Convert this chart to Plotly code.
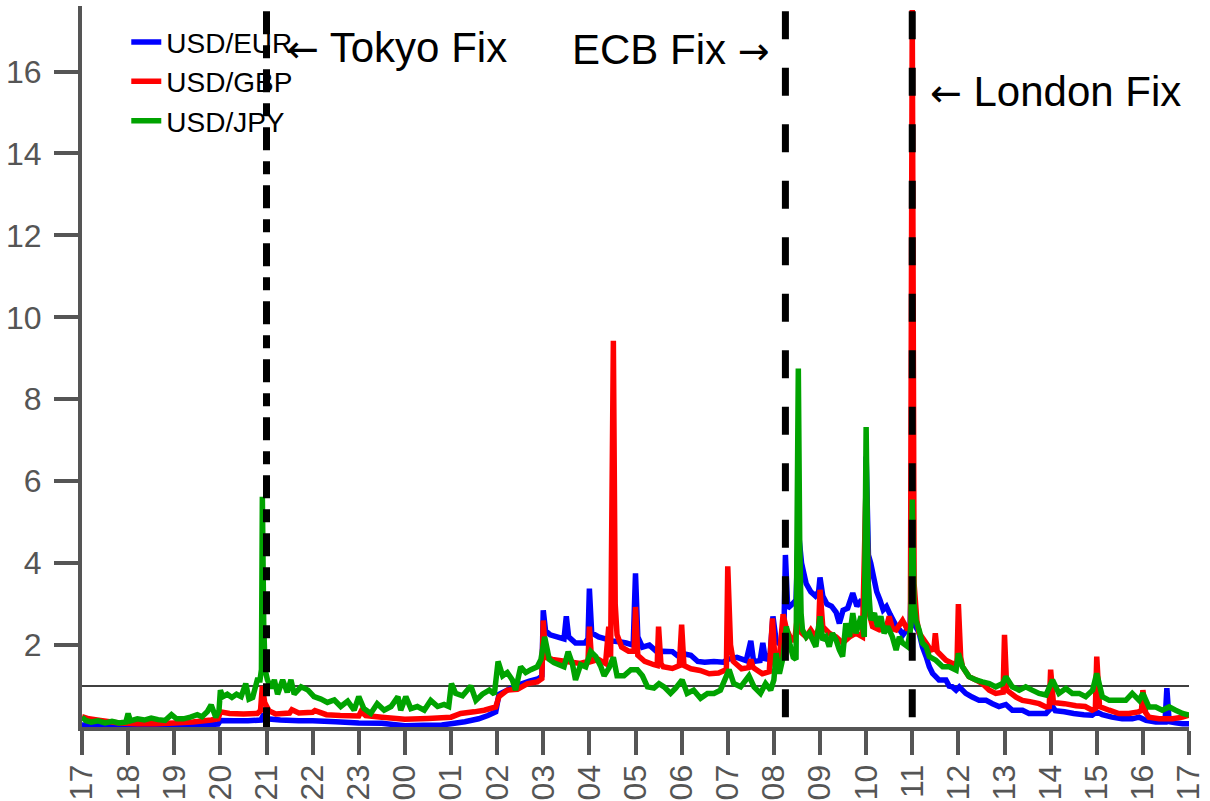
import plotly.graph_objects as go

# hours after 17:00 (0..24), value
hour_labels = ["17", "18", "19", "20", "21", "22", "23", "00", "01", "02", "03", "04", "05",
               "06", "07", "08", "09", "10", "11", "12", "13", "14", "15", "16", "17"]
y_ticks = [2, 4, 6, 8, 10, 12, 14, 16]

EUR = [(0,0.05),(0.3,0.04),(0.7,0.03),(1.0,0.04),(1.5,0.03),(2.0,0.05),(2.5,0.05),(2.95,0.07),(3.0,0.16),(3.3,0.15),(3.6,0.15),(3.88,0.17),(3.92,0.26),(4.0,0.2),(4.3,0.17),(4.7,0.15),(5.0,0.15),(5.5,0.13),(6.0,0.1),(6.5,0.09),(7.0,0.03),(7.4,0.04),(7.8,0.05),(8.0,0.08),(8.3,0.13),(8.6,0.2),(8.8,0.28),(8.97,0.37),(9.04,0.8),(9.22,0.9),(9.44,1.02),(9.7,1.12),(9.9,1.18),(9.97,1.25),(10.0,2.85),(10.05,2.35),(10.15,2.25),(10.3,2.2),(10.45,2.15),(10.5,2.7),(10.55,2.2),(10.7,2.05),(10.9,2.05),(10.97,2.15),(11.0,3.38),(11.05,2.3),(11.2,2.2),(11.35,2.15),(11.5,2.1),(11.65,2.08),(11.8,2.05),(11.95,2.0),(12.0,3.75),(12.05,2.2),(12.15,1.95),(12.3,2.0),(12.4,1.9),(12.5,1.8),(12.6,1.85),(12.8,1.84),(12.9,1.75),(13.0,1.8),(13.2,1.75),(13.35,1.6),(13.5,1.58),(13.7,1.6),(13.9,1.58),(14.0,1.65),(14.2,1.7),(14.4,1.62),(14.5,2.1),(14.56,1.6),(14.7,1.62),(14.76,2.05),(14.82,1.62),(14.92,1.8),(14.98,2.7),(15.05,2.1),(15.15,2.0),(15.22,2.5),(15.25,4.2),(15.3,2.9),(15.4,3.0),(15.48,3.1),(15.53,4.8),(15.6,4.0),(15.7,3.5),(15.8,3.3),(15.9,3.2),(15.97,3.3),(16.0,3.65),(16.06,3.2),(16.15,3.0),(16.25,2.95),(16.35,2.8),(16.42,2.53),(16.5,2.85),(16.6,2.9),(16.71,3.27),(16.8,2.95),(16.9,3.1),(16.97,2.8),(17.0,6.6),(17.05,4.2),(17.1,4.0),(17.16,3.67),(17.23,3.3),(17.3,3.1),(17.37,2.86),(17.44,2.94),(17.52,2.75),(17.59,2.6),(17.66,2.45),(17.73,2.37),(17.8,2.25),(17.88,2.37),(17.95,2.3),(18.0,4.5),(18.05,2.5),(18.15,2.3),(18.22,1.96),(18.3,1.72),(18.37,1.47),(18.44,1.31),(18.51,1.23),(18.58,1.15),(18.73,1.15),(18.8,1.0),(18.87,0.98),(18.95,0.9),(19.02,0.98),(19.09,0.9),(19.16,0.82),(19.3,0.73),(19.45,0.65),(19.6,0.65),(19.74,0.57),(19.88,0.5),(20.03,0.55),(20.17,0.41),(20.39,0.41),(20.53,0.33),(20.75,0.33),(20.9,0.33),(21.04,0.5),(21.1,0.4),(21.3,0.37),(21.5,0.33),(21.72,0.3),(21.9,0.29),(22.0,0.37),(22.12,0.3),(22.33,0.24),(22.55,0.2),(22.77,0.2),(22.92,0.24),(23.07,0.16),(23.28,0.12),(23.48,0.12),(23.52,0.95),(23.57,0.13),(23.71,0.1),(23.86,0.08),(24.0,0.08)]

GBP = [(0,0.25),(0.15,0.2),(0.4,0.16),(0.8,0.1),(1.2,0.08),(1.6,0.08),(2.0,0.1),(2.4,0.12),(2.8,0.17),(2.95,0.2),(3.0,0.37),(3.2,0.33),(3.5,0.32),(3.8,0.33),(3.87,0.4),(3.91,1.0),(3.96,0.6),(4.05,0.4),(4.2,0.32),(4.5,0.34),(4.55,0.42),(4.7,0.34),(5.0,0.36),(5.05,0.4),(5.3,0.3),(5.6,0.28),(6.0,0.27),(6.05,0.38),(6.15,0.28),(6.5,0.24),(7.0,0.19),(7.5,0.21),(8.0,0.24),(8.21,0.33),(8.5,0.37),(8.72,0.41),(8.97,0.49),(9.04,0.74),(9.22,0.9),(9.44,0.92),(9.66,1.06),(9.87,1.1),(9.97,1.18),(10.0,2.6),(10.05,1.7),(10.2,1.65),(10.5,1.6),(10.8,1.55),(10.97,1.6),(11.0,2.45),(11.05,1.6),(11.2,1.65),(11.35,1.55),(11.42,2.45),(11.46,1.7),(11.52,9.43),(11.56,3.0),(11.6,2.25),(11.7,1.95),(11.85,1.85),(11.97,1.85),(12.0,2.93),(12.05,1.75),(12.2,1.6),(12.4,1.52),(12.47,1.5),(12.5,2.45),(12.55,1.55),(12.6,1.47),(12.8,1.43),(12.95,1.5),(13.0,2.5),(13.05,1.5),(13.2,1.42),(13.4,1.38),(13.6,1.3),(13.8,1.32),(13.97,1.4),(14.0,3.92),(14.06,2.0),(14.12,1.6),(14.3,1.42),(14.45,1.45),(14.5,1.65),(14.55,1.45),(14.75,1.3),(14.9,1.35),(14.97,2.65),(15.03,1.5),(15.1,1.45),(15.2,2.75),(15.27,2.4),(15.35,2.2),(15.45,2.1),(15.53,2.9),(15.6,2.3),(15.7,2.2),(15.8,2.37),(15.9,2.2),(15.97,2.4),(16.0,3.35),(16.06,2.45),(16.2,2.29),(16.35,2.2),(16.49,2.05),(16.64,2.2),(16.78,2.29),(16.92,2.2),(17.0,6.0),(17.06,2.8),(17.14,2.45),(17.29,2.37),(17.43,2.4),(17.5,2.7),(17.57,2.4),(17.65,2.37),(17.79,2.6),(17.9,2.37),(17.96,2.5),(18.0,17.5),(18.04,3.5),(18.1,2.6),(18.15,2.29),(18.3,2.05),(18.4,1.88),(18.47,1.9),(18.5,2.29),(18.54,1.85),(18.58,1.8),(18.73,1.63),(18.87,1.55),(18.97,1.55),(19.0,3.0),(19.05,1.7),(19.09,1.47),(19.23,1.23),(19.38,1.15),(19.52,1.06),(19.67,0.9),(19.81,0.82),(19.97,0.85),(20.0,2.25),(20.05,0.9),(20.25,0.73),(20.39,0.65),(20.55,0.62),(20.75,0.57),(20.9,0.49),(20.97,0.5),(21.0,1.4),(21.06,0.6),(21.3,0.57),(21.55,0.52),(21.75,0.5),(21.9,0.41),(21.97,0.45),(22.0,1.72),(22.06,0.5),(22.27,0.41),(22.48,0.33),(22.7,0.33),(22.9,0.37),(22.97,0.4),(23.0,0.9),(23.06,0.35),(23.13,0.24),(23.35,0.2),(23.64,0.2),(23.86,0.24),(24.0,0.29)]

JPY = [(0,0.24),(0.08,0.16),(0.2,0.12),(0.35,0.15),(0.5,0.1),(0.65,0.14),(0.8,0.1),(0.95,0.12),(1.0,0.33),(1.05,0.15),(1.2,0.2),(1.35,0.17),(1.5,0.22),(1.65,0.18),(1.8,0.16),(1.94,0.3),(2.05,0.2),(2.2,0.2),(2.35,0.24),(2.5,0.3),(2.6,0.25),(2.72,0.38),(2.8,0.54),(2.9,0.24),(2.97,0.4),(3.0,0.9),(3.05,0.74),(3.15,0.8),(3.25,0.72),(3.35,0.8),(3.45,0.74),(3.55,1.06),(3.62,0.68),(3.7,0.72),(3.8,1.15),(3.86,1.15),(3.89,1.4),(3.91,5.62),(3.94,2.5),(3.97,1.4),(4.02,1.15),(4.1,0.95),(4.17,1.15),(4.24,0.8),(4.35,1.15),(4.45,0.85),(4.53,1.15),(4.6,0.8),(4.75,0.98),(4.9,0.9),(5.03,0.74),(5.18,0.68),(5.32,0.6),(5.47,0.66),(5.61,0.5),(5.76,0.63),(5.9,0.41),(6.0,0.74),(6.11,0.45),(6.26,0.33),(6.4,0.57),(6.55,0.41),(6.7,0.5),(6.85,0.74),(6.91,0.41),(7.02,0.74),(7.13,0.45),(7.27,0.5),(7.42,0.41),(7.56,0.65),(7.71,0.5),(7.85,0.55),(7.95,0.5),(8.01,1.06),(8.1,0.82),(8.25,0.76),(8.43,1.0),(8.54,0.65),(8.68,0.8),(8.83,0.9),(8.94,0.8),(9.02,1.6),(9.12,1.25),(9.22,1.33),(9.33,1.15),(9.4,0.9),(9.51,1.47),(9.62,1.33),(9.73,1.4),(9.87,1.47),(9.95,1.65),(10.03,2.2),(10.13,1.65),(10.23,1.57),(10.34,1.52),(10.45,1.47),(10.54,1.84),(10.63,1.55),(10.7,1.15),(10.81,1.52),(10.92,1.47),(11.03,1.84),(11.14,1.72),(11.25,1.47),(11.32,1.25),(11.43,1.45),(11.52,1.7),(11.6,1.25),(11.75,1.25),(11.9,1.4),(12.04,1.4),(12.15,1.25),(12.26,0.98),(12.4,0.95),(12.51,1.06),(12.62,0.98),(12.76,0.82),(12.87,0.95),(13.01,1.15),(13.12,0.82),(13.26,0.9),(13.41,0.7),(13.56,0.82),(13.7,0.82),(13.84,0.9),(14.03,1.4),(14.13,1.06),(14.28,0.98),(14.46,1.25),(14.57,0.98),(14.71,0.82),(14.82,1.06),(14.93,0.9),(15.0,1.15),(15.05,1.8),(15.12,1.3),(15.2,1.7),(15.27,2.45),(15.35,2.0),(15.42,1.7),(15.48,1.65),(15.53,8.75),(15.56,4.5),(15.59,2.78),(15.62,2.37),(15.7,2.2),(15.77,2.29),(15.84,2.12),(15.91,1.96),(16.0,2.7),(16.06,2.12),(16.13,2.2),(16.2,1.96),(16.27,2.29),(16.35,2.12),(16.42,1.88),(16.49,1.72),(16.56,2.53),(16.64,2.2),(16.71,2.78),(16.78,2.29),(16.89,2.7),(16.96,2.2),(17.0,7.32),(17.04,3.6),(17.1,2.61),(17.18,2.78),(17.25,2.45),(17.32,2.7),(17.39,2.29),(17.47,2.45),(17.57,2.2),(17.65,1.88),(17.72,2.2),(17.79,2.05),(17.9,1.96),(17.97,2.45),(18.0,5.55),(18.04,3.0),(18.08,2.6),(18.15,2.37),(18.22,2.05),(18.3,1.96),(18.37,1.72),(18.51,1.63),(18.66,1.47),(18.8,1.47),(18.95,1.39),(19.0,1.8),(19.09,1.47),(19.23,1.23),(19.38,1.15),(19.52,1.1),(19.67,1.06),(19.81,0.98),(19.96,1.06),(20.03,1.23),(20.17,0.98),(20.32,0.9),(20.46,0.98),(20.6,0.9),(20.75,0.82),(20.9,0.78),(21.04,1.15),(21.18,0.82),(21.33,0.94),(21.47,0.82),(21.62,0.82),(21.76,0.74),(21.91,0.9),(22.0,1.31),(22.12,0.74),(22.27,0.65),(22.48,0.65),(22.63,0.65),(22.77,0.82),(22.92,0.65),(23.0,0.82),(23.13,0.49),(23.28,0.49),(23.42,0.41),(23.57,0.49),(23.71,0.41),(23.86,0.33),(24.0,0.29)]

# fix times (hours after 17:00)
fix_times = {"Tokyo": 4.0, "ECB": 15.25, "London": 18.0}
reference_level = 1.0

FONT = "Liberation Sans, Arial, Helvetica, sans-serif"
ARROW_FONT = "DejaVu Sans"
AX = "#555555"

fig = go.Figure()
for name, data, color in [("USD/EUR", EUR, "#0000FF"), ("USD/GBP", GBP, "#FF0000"), ("USD/JPY", JPY, "#00A300")]:
    t, v = zip(*data)
    fig.add_trace(go.Scatter(x=list(t), y=list(v), mode="lines", name=name,
                             line=dict(color=color, width=5.5, simplify=False)))

fig.add_shape(type="line", xref="x", yref="y", x0=0, x1=24, y0=reference_level, y1=reference_level,
              line=dict(color="black", width=1.5), layer="below")
fig.add_shape(type="line", xref="x", yref="y", x0=fix_times["Tokyo"], x1=fix_times["Tokyo"], y0=17.47, y1=0,
              line=dict(color="black", width=7, dash="23px,11px,13px,11px"))
fig.add_shape(type="line", xref="x", yref="y", x0=fix_times["ECB"], x1=fix_times["ECB"], y0=17.47, y1=0,
              line=dict(color="black", width=7, dash="28px,28.5px"))
fig.add_shape(type="line", xref="x", yref="y", x0=fix_times["London"], x1=fix_times["London"], y0=17.47, y1=0,
              line=dict(color="black", width=7, dash="28px,28.5px"))

ann_font = dict(family=FONT, size=42, color="black")
arrow_l = '<span style="font-family:' + ARROW_FONT + ';font-size:38px">\u2190</span>'
arrow_r = '<span style="font-family:' + ARROW_FONT + ';font-size:38px">\u2192</span>'
fig.add_annotation(x=4.41, y=16.59, xref="x", yref="y", text=arrow_l + " Tokyo Fix", showarrow=False,
                   xanchor="left", yanchor="middle", font=ann_font)
fig.add_annotation(x=14.96, y=16.54, xref="x", yref="y", text="ECB Fix " + arrow_r, showarrow=False,
                   xanchor="right", yanchor="middle", font=ann_font)
fig.add_annotation(x=18.35, y=15.51, xref="x", yref="y", text=arrow_l + " London Fix", showarrow=False,
                   xanchor="left", yanchor="middle", font=ann_font)

fig.update_layout(
    width=1210, height=801,
    margin=dict(l=82, r=21, t=6, b=74, autoexpand=False),
    paper_bgcolor="white", plot_bgcolor="white",
    font=dict(family=FONT, color=AX),
    legend=dict(x=0.04, y=0.9845, xanchor="left", yanchor="top", bgcolor="rgba(0,0,0,0)",
                font=dict(family=FONT, size=28, color="black"), tracegroupgap=0),
    xaxis=dict(range=[0, 24], tickmode="array", tickvals=list(range(25)), ticktext=hour_labels,
               tickangle=-90, ticks="outside", ticklen=24, tickwidth=4, tickcolor=AX,
               showline=True, linewidth=4, linecolor=AX, showgrid=False, zeroline=False,
               automargin=False,
               tickfont=dict(family=FONT, size=32, color=AX), ticklabelstandoff=-3),
    yaxis=dict(range=[0, 17.6], tickmode="array", tickvals=y_ticks,
               ticks="outside", ticklen=24, tickwidth=4, tickcolor=AX,
               showline=True, linewidth=4, linecolor=AX, showgrid=False, zeroline=False,
               automargin=False,
               tickfont=dict(family=FONT, size=32, color=AX), ticklabelstandoff=6),
)

fig.write_html("out.html", config={"displayModeBar": False},
               post_script="document.body.style.margin='0';document.body.style.overflow='hidden';")
